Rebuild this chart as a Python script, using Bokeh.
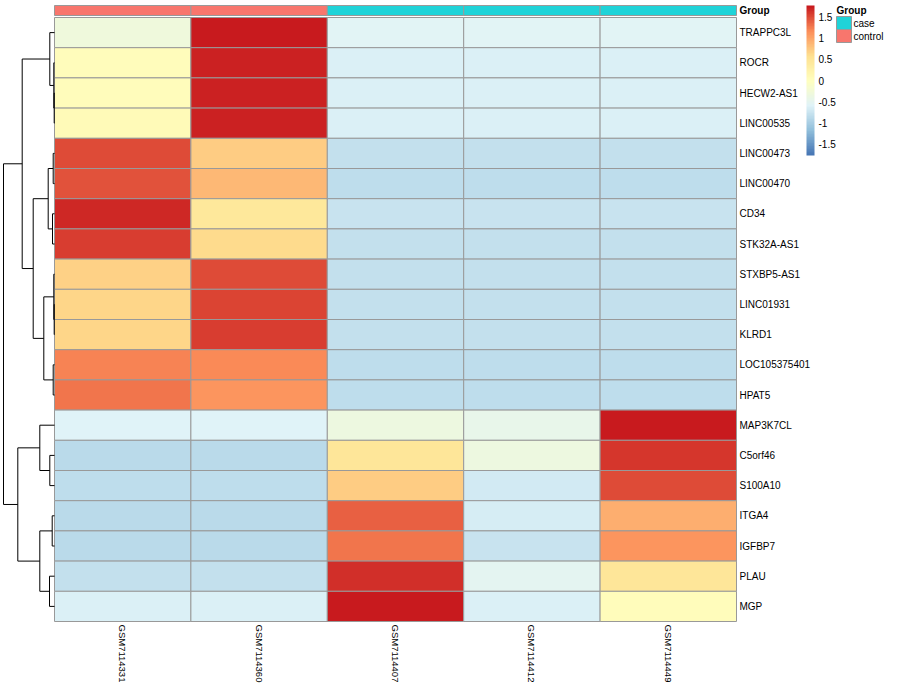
import numpy as np
from bokeh.plotting import figure
from bokeh.models import (Range1d, ColumnDataSource, LinearColorMapper, ColorBar,
                          FixedTicker, CustomJSTickFormatter)
from bokeh.core.properties import value
from bokeh.embed import file_html
from bokeh.resources import INLINE

# ---------------- data ----------------
genes = ["TRAPPC3L", "ROCR", "HECW2-AS1", "LINC00535", "LINC00473", "LINC00470",
         "CD34", "STK32A-AS1", "STXBP5-AS1", "LINC01931", "KLRD1", "LOC105375401",
         "HPAT5", "MAP3K7CL", "C5orf46", "S100A10", "ITGA4", "IGFBP7", "PLAU", "MGP"]
samples = ["GSM7114331", "GSM7114360", "GSM7114407", "GSM7114412", "GSM7114449"]
sample_group = ["control", "control", "case", "case", "case"]
group_levels = ["case", "control"]
group_colors = ["#1FD3D8", "#F8766D"]

GSM7114331 = [-0.32, 0.05, 0.07, 0.08, 1.53, 1.48, 1.69, 1.60, 0.70, 0.66, 0.66, 1.24, 1.31,
              -0.57, -0.88, -0.83, -0.86, -0.86, -0.80, -0.64]
GSM7114360 = [1.78, 1.74, 1.72, 1.72, 0.73, 0.88, 0.46, 0.63, 1.53, 1.56, 1.57, 1.21, 1.13,
              -0.57, -0.88, -0.83, -0.86, -0.86, -0.80, -0.64]
GSM7114407 = [-0.55, -0.64, -0.64, -0.64, -0.79, -0.83, -0.76, -0.79, -0.79, -0.79, -0.79, -0.83, -0.83,
              -0.33, 0.48, 0.73, 1.40, 1.30, 1.66, 1.78]
GSM7114412 = [-0.54, -0.64, -0.64, -0.64, -0.79, -0.83, -0.76, -0.79, -0.79, -0.79, -0.79, -0.83, -0.83,
              -0.45, -0.35, -0.68, -0.65, -0.76, -0.52, -0.64]
GSM7114449 = [-0.55, -0.64, -0.64, -0.64, -0.79, -0.83, -0.76, -0.79, -0.79, -0.79, -0.79, -0.83, -0.83,
              1.78, 1.62, 1.52, 0.95, 1.12, 0.47, 0.05]
columns = [GSM7114331, GSM7114360, GSM7114407, GSM7114412, GSM7114449]

# row dendrogram (leaves 0..19 in display order, merged nodes numbered 20..)
merge_left = [2, 1, 0, 4, 6, 23, 9, 8, 11, 27, 25, 22, 14, 13, 16, 18, 34, 33, 31]
merge_right = [3, 20, 21, 5, 7, 24, 10, 26, 12, 28, 29, 30, 15, 32, 17, 19, 35, 36, 37]
merge_height = [0.3, 0.7, 4.7, 1.3, 2.0, 6.3, 0.3, 0.7, 1.3, 10.7, 21.3, 32.3,
                4.7, 14.7, 2.3, 5.0, 14.7, 36.7, 51.0]

legend_ticks = [-1.5, -1, -0.5, 0, 0.5, 1, 1.5]
scale_low, scale_high = -1.78, 1.78

# ---------------- layout constants (pixels) ----------------
W, H = 884, 684
HM_LEFT, HM_RIGHT, HM_TOP, HM_BOTTOM = 54, 736, 17, 621
n_rows, n_cols = len(genes), len(samples)
col_px = (HM_RIGHT - HM_LEFT) / n_cols
row_px = (HM_BOTTOM - HM_TOP) / n_rows
x_start = -HM_LEFT / col_px
x_end = (W - HM_LEFT) / col_px
y_top = -HM_TOP / row_px
y_bottom = (H - HM_TOP) / row_px


def px_x(px):
    return x_start + px / col_px


def px_y(px):
    return y_top + px / row_px


FONT = value("Liberation Sans")

# palette (RdYlBu style ramp, 100 colours)
anchors = ["#4575B4", "#91BFDB", "#E0F3F8", "#FFFFBF", "#FEE090", "#FC8D59", "#C81A1E"]
anc = np.array([[int(c[i:i + 2], 16) for i in (1, 3, 5)] for c in anchors], float)
pos = np.linspace(0, 1, len(anchors))
tt = np.linspace(0, 1, 100)
palette = ["#%02x%02x%02x" % tuple(int(round(np.interp(t, pos, anc[:, k]))) for k in range(3))
           for t in tt]
mapper = LinearColorMapper(palette=palette, low=scale_low, high=scale_high)

p = figure(width=W, height=H, x_range=Range1d(x_start, x_end),
           y_range=Range1d(y_bottom, y_top), output_backend="svg",
           toolbar_location=None, x_axis_location=None, y_axis_location=None,
           min_border=0)
p.xgrid.visible = False
p.ygrid.visible = False
p.outline_line_color = None
p.background_fill_color = "white"
p.border_fill_color = "white"

# ---------------- heatmap ----------------
xs, ys, vs = [], [], []
for j, col in enumerate(columns):
    for i, v in enumerate(col):
        xs.append(j + 0.5)
        ys.append(i + 0.5)
        vs.append(v)
src = ColumnDataSource(dict(x=xs, y=ys, v=vs))
p.rect(x="x", y="y", width=1, height=1, source=src,
       fill_color={"field": "v", "transform": mapper},
       line_color="#999999", line_width=1)

# ---------------- annotation bar ----------------
ann_y0, ann_y1 = px_y(5), px_y(15)
ann_src = ColumnDataSource(dict(
    x=[j + 0.5 for j in range(n_cols)],
    y=[(ann_y0 + ann_y1) / 2] * n_cols,
    c=[group_colors[group_levels.index(g)] for g in sample_group]))
p.rect(x="x", y="y", width=1, height=ann_y1 - ann_y0, fill_color="c",
       line_color="#999999", line_width=1, source=ann_src)
p.text(x=[n_cols], y=[(ann_y0 + ann_y1) / 2], text=["Group"], x_offset=3,
       text_align="left", text_baseline="middle", text_font=FONT,
       text_font_size="10px", text_font_style="bold", text_color="black")

# ---------------- row & column labels ----------------
p.text(x=[n_cols] * n_rows, y=[i + 0.5 for i in range(n_rows)], text=genes,
       x_offset=3, text_align="left", text_baseline="middle", text_font=FONT,
       text_font_size="10px", text_color="black")
p.text(x=[j + 0.5 for j in range(n_cols)], y=[n_rows] * n_cols, text=samples,
       angle=-np.pi / 2, y_offset=3, text_align="left", text_baseline="middle",
       text_font=FONT, text_font_size="9.5px", text_color="black")

# ---------------- dendrogram ----------------
dendro_px = HM_LEFT - 3
h_scale = dendro_px / max(merge_height) / col_px
node_y = {i: i + 0.5 for i in range(n_rows)}
node_h = {i: 0.0 for i in range(n_rows)}
sx0, sy0, sx1, sy1 = [], [], [], []
for k, (l, r, h) in enumerate(zip(merge_left, merge_right, merge_height)):
    node = n_rows + k
    node_y[node] = (node_y[l] + node_y[r]) / 2
    node_h[node] = h
    xh = -h * h_scale
    sx0 += [xh, xh, xh]
    sy0 += [node_y[l], node_y[l], node_y[r]]
    sx1 += [xh, -node_h[l] * h_scale, -node_h[r] * h_scale]
    sy1 += [node_y[r], node_y[l], node_y[r]]
p.segment(x0=sx0, y0=sy0, x1=sx1, y1=sy1, line_color="black", line_width=1)

# ---------------- colour legend ----------------
cb_top, cb_height = 5, 150
cb = ColorBar(color_mapper=mapper, width=8, height=cb_height,
              location=(806, H - cb_height - cb_top), padding=0, margin=0,
              ticker=FixedTicker(ticks=legend_ticks),
              formatter=CustomJSTickFormatter(code="return tick.toString()"),
              major_tick_line_color=None, minor_tick_line_color=None,
              bar_line_color=None, border_line_color=None,
              background_fill_alpha=0, label_standoff=4,
              major_label_text_font="Liberation Sans",
              major_label_text_font_size="10px", major_label_text_color="black")
p.add_layout(cb)

# ---------------- group legend ----------------
LEG_X = 836
p.text(x=[px_x(LEG_X)], y=[px_y(10)], text=["Group"], text_align="left",
       text_baseline="middle", text_font=FONT, text_font_size="10px",
       text_font_style="bold", text_color="black")
leg_y = [px_y(22.5), px_y(35.5)]
p.rect(x=[px_x(LEG_X + 7.5)] * 2, y=leg_y, width=15 / col_px, height=13 / row_px,
       fill_color=group_colors, line_color="#999999", line_width=1)
p.text(x=[px_x(LEG_X + 17)] * 2, y=leg_y, text=group_levels, text_align="left",
       text_baseline="middle", text_font=FONT, text_font_size="10px",
       text_color="black")

open("out.html", "w").write(file_html(p, INLINE))
